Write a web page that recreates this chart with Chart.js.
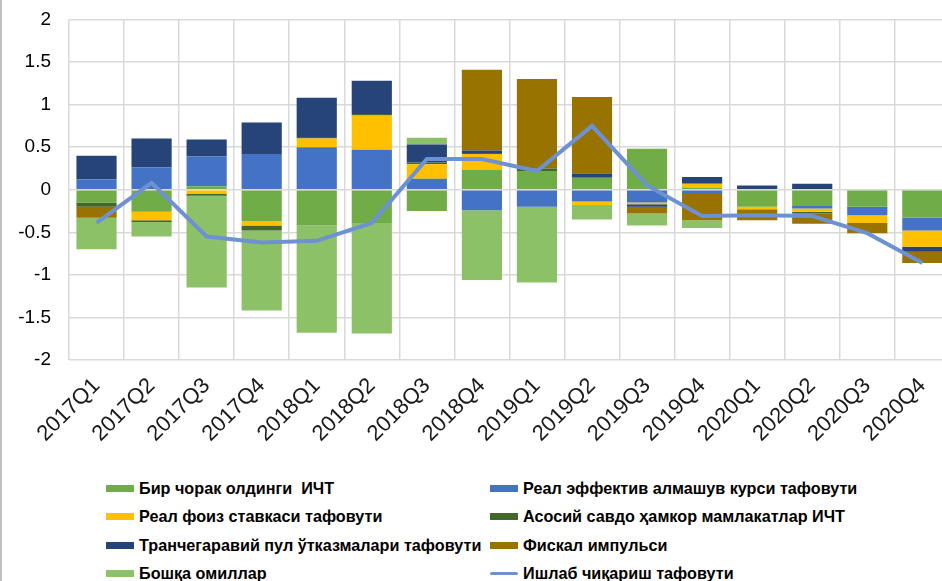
<!DOCTYPE html>
<html>
<head>
<meta charset="utf-8">
<script src="https://cdn.jsdelivr.net/npm/chart.js@4"></script>
<style>
    body { margin: 0; background: #fff; overflow: hidden; font-family: "Liberation Sans", Arial, sans-serif; }
    .frame { position: relative; width: 942px; height: 581px; border-left: 2px solid #bfbfbf; box-sizing: border-box; overflow: hidden; }
    .chart-box { position: absolute; left: -2px; top: -10px; width: 954px; height: 470px; }
    #legend { position: absolute; left: 104px; top: 474px; display: grid; grid-template-columns: 384px 400px; row-gap: 0; }
    .item { display: flex; align-items: center; height: 28.5px; font-weight: bold; font-size: 16.2px; color: #000; white-space: pre; }
    .sw { width: 28px; height: 7px; margin-right: 5px; flex: none; }
    .sw.line { height: 3px; border-radius: 2px; }
</style>
</head>
<body>
<div class="frame">
    <div class="chart-box"><canvas id="chart"></canvas></div>
    <div id="legend"></div>
</div>
<script>
const quarters = ['2017Q1','2017Q2','2017Q3','2017Q4','2018Q1','2018Q2','2018Q3','2018Q4',
                  '2019Q1','2019Q2','2019Q3','2019Q4','2020Q1','2020Q2','2020Q3','2020Q4'];
const yTicks = [-2, -1.5, -1, -0.5, 0, 0.5, 1, 1.5, 2];

const prevCpi     = [-0.15, -0.26, 0.04, -0.37, -0.42, -0.39, -0.25, 0.23, 0.22, 0.14, 0.48, 0.02, -0.2, -0.19, -0.2, -0.33];
const reer        = [0.12, 0.26, 0.35, 0.42, 0.5, 0.47, 0.13, -0.24, -0.2, -0.14, -0.15, -0.05, 0, -0.03, -0.1, -0.15];
const realRate    = [0, -0.1, -0.05, -0.05, 0.1, 0.4, 0.17, 0.19, 0, -0.04, -0.02, 0.05, -0.03, -0.04, -0.09, -0.19];
const partnerCpi  = [-0.05, -0.02, -0.02, -0.06, 0.02, 0.02, 0.02, 0.01, 0.03, 0, 0, 0, 0, -0.02, 0, 0];
const remittances = [0.28, 0.34, 0.2, 0.37, 0.46, 0.39, 0.21, 0.03, 0, 0.05, -0.03, 0.08, 0.05, 0.07, 0, -0.06];
const fiscal      = [-0.13, 0, 0, 0, 0, 0, 0, 0.95, 1.05, 0.9, -0.08, -0.31, -0.13, -0.12, -0.12, -0.13];
const other       = [-0.37, -0.17, -1.08, -0.94, -1.26, -1.3, 0.08, -0.82, -0.89, -0.17, -0.14, -0.09, 0, 0, 0, 0];
const outputGap   = [-0.39, 0.08, -0.55, -0.62, -0.6, -0.39, 0.36, 0.36, 0.22, 0.75, 0.05, -0.31, -0.3, -0.31, -0.51, -0.86];

const barSeries = [
    { label: 'Бир чорак олдинги  ИЧТ', data: prevCpi, color: '#70AD47' },
    { label: 'Реал эффектив алмашув курси тафовути', data: reer, color: '#4472C4' },
    { label: 'Реал фоиз ставкаси тафовути', data: realRate, color: '#FFC000' },
    { label: 'Асосий савдо ҳамкор мамлакатлар ИЧТ', data: partnerCpi, color: '#43682B' },
    { label: 'Транчегаравий пул ўтказмалари тафовути', data: remittances, color: '#264478' },
    { label: 'Фискал импульси', data: fiscal, color: '#997300' },
    { label: 'Бошқа омиллар', data: other, color: '#8CC168' }
];
const lineLabel = 'Ишлаб чиқариш тафовути';
const lineColor = '#6D91D3';

const datasets = barSeries.map(s => ({
    type: 'bar',
    label: s.label,
    data: s.data,
    backgroundColor: s.color,
    borderWidth: 0,
    stack: 'f',
    categoryPercentage: 1,
    barPercentage: 0.73,
    order: 2
}));
datasets.push({
    type: 'line',
    label: lineLabel,
    data: outputGap,
    borderColor: lineColor,
    borderWidth: 4,
    pointRadius: 0,
    tension: 0,
    fill: false,
    order: 1
});

const font = { family: '"Liberation Sans", Arial, sans-serif', size: 19 };

new Chart(document.getElementById('chart'), {
    type: 'bar',
    data: { labels: quarters, datasets },
    options: {
        responsive: true,
        maintainAspectRatio: false,
        animation: false,
        layout: { padding: { top: 10, right: 0, left: 0, bottom: 0 } },
        plugins: { legend: { display: false }, tooltip: { enabled: false } },
        scales: {
            x: {
                stacked: true,
                grid: { color: '#d9d9d9', lineWidth: 1.5, drawTicks: false, offset: true },
                border: { display: false },
                ticks: { color: '#1a1a1a', font: { ...font, size: 22 }, minRotation: 45, maxRotation: 45, padding: 13 },
                afterFit: s => { s.height = 100; }
            },
            y: {
                stacked: true,
                min: -2,
                max: 2,
                afterBuildTicks: s => { s.ticks = yTicks.map(v => ({ value: v })); },
                grid: { color: '#d9d9d9', lineWidth: 1.5, drawTicks: false },
                border: { display: false },
                ticks: { color: '#000', font, padding: 18, callback: v => String(v) },
                afterFit: s => { s.width = 69; }
            }
        }
    }
});

// legend in two columns, same order as the datasets
document.getElementById('legend').innerHTML = datasets.map(d => {
    const isLine = d.type === 'line';
    const c = isLine ? d.borderColor : d.backgroundColor;
    return `<div class="item"><span class="sw${isLine ? ' line' : ''}" style="background:${c}"></span>${d.label}</div>`;
}).join('');
</script>
</body>
</html>
